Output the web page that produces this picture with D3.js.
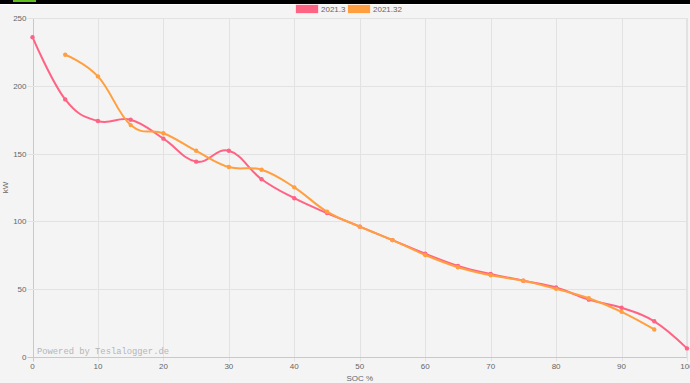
<!DOCTYPE html>
<html>
<head>
<meta charset="utf-8">
<script src="https://cdn.jsdelivr.net/npm/d3@7"></script>
<style>
  body { margin: 0; background: #f4f4f4; }
  svg { display: block; }
</style>
</head>
<body>
<div id="chart"></div>
<script>
let width = 690
let height = 383

// SOC steps and the two charge curves (kW)
let soc = [0,5,10,15,20,25,30,35,40,45,50,55,60,65,70,75,80,85,90,95,100]
let series1 = [236,190,174,175,161,144,152,131,117,106,96,86,76,67,61,56,51,42,36,26,6]
let series2 = [null,223,207,171,165,152,140,138,125,107,96,86,75,66,60,56,50,43,33,20,null]
let seriesNames = ["2021.3","2021.32"]
let colors = ["rgb(255,99,132)","rgb(255,159,64)"]
let yTicks = [0,50,100,150,200,250]
let xTicks = [0,10,20,30,40,50,60,70,80,90,100]

let margin = {top: 18, right: 3, bottom: 27, left: 33}

const svg = d3.select("#chart").append("svg").attr("width", width).attr("height", height)
  .style("font-family", "'Liberation Sans', Arial, sans-serif")

svg.append("rect").attr("width", width).attr("height", height).attr("fill", "#f4f4f4")

// top strip of the page above the chart
svg.append("rect").attr("width", width).attr("height", 4).attr("fill", "#000")
svg.append("rect").attr("x", 0).attr("y", 4).attr("width", width).attr("height", 1).attr("fill", "#fff")
svg.append("rect").attr("x", 13).attr("y", 0).attr("width", 23).attr("height", 2).attr("fill", "#5fbf1f")

let x = d3.scaleLinear().domain([0,100]).range([margin.left - 0.5, width - margin.right])
let y = d3.scaleLinear().domain([0,250]).range([height - margin.bottom + 0.5, margin.top + 0.2])

// grid
svg.append("g").selectAll("line").data(xTicks).join("line")
  .attr("x1", d => Math.round(x(d)) + 0.5).attr("x2", d => Math.round(x(d)) + 0.5)
  .attr("y1", y(250)).attr("y2", y(0) + 5)
  .attr("stroke", d => d == 0 ? "#c9c9c9" : "#e2e2e2").attr("stroke-width", 1)

svg.append("g").selectAll("line").data(yTicks).join("line")
  .attr("x1", x(0) - 5).attr("x2", x(100))
  .attr("y1", d => Math.round(y(d)) + 0.5).attr("y2", d => Math.round(y(d)) + 0.5)
  .attr("stroke", d => d == 0 ? "#c9c9c9" : "#e2e2e2").attr("stroke-width", 1)

// right border
svg.append("line").attr("x1", x(100) - 0.5).attr("x2", x(100) - 0.5)
  .attr("y1", y(250)).attr("y2", y(0)).attr("stroke", "#e2e2e2")

// tick labels
svg.append("g").selectAll("text").data(yTicks).join("text")
  .attr("x", x(0) - 6).attr("y", d => y(d) + 3)
  .attr("text-anchor", "end").attr("font-size", 8).attr("fill", "#666")
  .text(d => d)

svg.append("g").selectAll("text").data(xTicks).join("text")
  .attr("x", d => x(d)).attr("y", y(0) + 12)
  .attr("text-anchor", "middle").attr("font-size", 8).attr("fill", "#666")
  .text(d => d)

// axis titles
svg.append("text").attr("x", (x(0) + x(100)) / 2).attr("y", 381)
  .attr("text-anchor", "middle").attr("font-size", 8).attr("fill", "#666").text("SOC %")
svg.append("text").attr("transform", `translate(8,${(y(0) + y(250)) / 2}) rotate(-90)`)
  .attr("text-anchor", "middle").attr("font-size", 8).attr("fill", "#666").text("kW")

// watermark
svg.append("text").attr("x", 37).attr("y", 353.5)
  .attr("font-family", "'Liberation Mono', 'DejaVu Sans Mono', monospace")
  .attr("font-size", 8.8).attr("fill", "#b4b4b4").text("Powered by Teslalogger.de")

// lines
const line = d3.line()
  .defined(d => d[1] != null)
  .x(d => x(d[0])).y(d => y(d[1]))
  .curve(d3.curveCardinal.tension(-0.2))

;[series1, series2].forEach((s, i) => {
  let pts = soc.map((v, j) => [v, s[j]])
  svg.append("path").datum(pts.filter(p => p[1] != null))
    .attr("d", line).attr("fill", "none")
    .attr("stroke", colors[i]).attr("stroke-width", 2)
  svg.append("g").selectAll("circle").data(pts.filter(p => p[1] != null)).join("circle")
    .attr("cx", d => x(d[0])).attr("cy", d => y(d[1])).attr("r", 2.2)
    .attr("fill", colors[i])
})

// legend
let legend = svg.append("g")
let lx = [295, 347]
seriesNames.forEach((n, i) => {
  legend.append("rect").attr("x", lx[i] + 0.5).attr("y", 4.5).attr("width", 23).attr("height", 9)
    .attr("fill", colors[i]).attr("stroke", "rgba(255,255,255,0.6)").attr("stroke-width", 1)
  legend.append("text").attr("x", lx[i] + 26).attr("y", 12)
    .attr("font-size", 8).attr("fill", "#666").text(n)
})
</script>
</body>
</html>
